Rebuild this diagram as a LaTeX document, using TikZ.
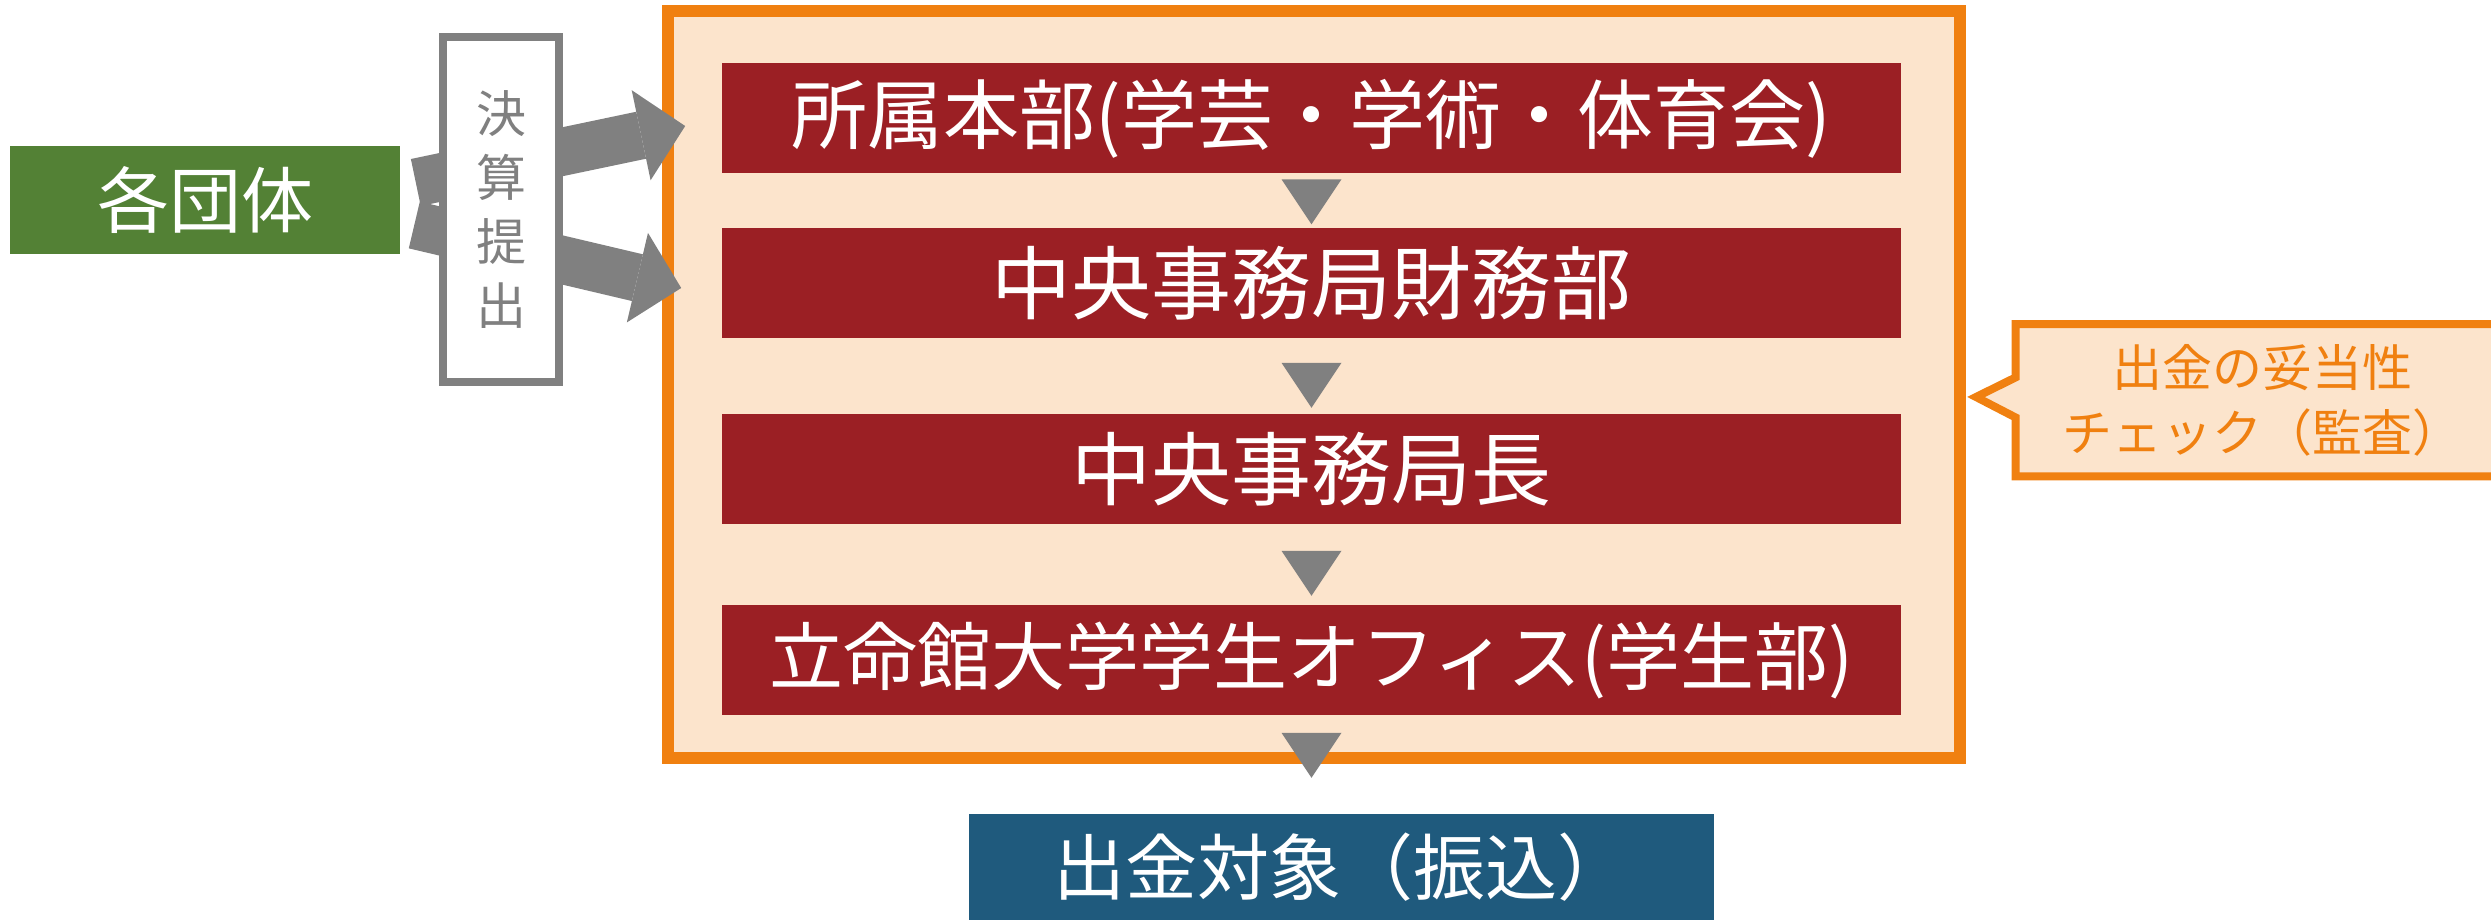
\documentclass[tikz,border=0pt]{standalone}
\usepackage{fontspec}
\newfontfamily\jpfont{Noto Sans CJK JP}
\usetikzlibrary{arrows.meta, calc, shapes.callouts}
\definecolor{groupgreen}{HTML}{538135}
\definecolor{deptred}{HTML}{9B1F24}
\definecolor{payblue}{HTML}{1F5A7D}
\definecolor{auditorange}{HTML}{F08010}
\definecolor{auditfill}{HTML}{FCE4CC}
\definecolor{flowgray}{HTML}{808080}
\tikzset{
  deptbox/.style = {fill=deptred, text=white, inner sep=0, minimum width=294.75pt, minimum height=27.5pt},
  auditframe/.style = {draw=auditorange, line width=3pt, fill=auditfill, inner sep=0},
  groupbox/.style = {fill=groupgreen, text=white, inner sep=0, minimum width=97.5pt, minimum height=27pt,
    font=\jpfont\fontsize{18pt}{22pt}\selectfont},
  paybox/.style = {fill=payblue, text=white, inner sep=0, minimum width=186.25pt, minimum height=26.5pt,
    font=\jpfont\fontsize{18pt}{22pt}\selectfont},
  submitbox/.style = {draw=flowgray, line width=2pt, fill=white, text=flowgray, inner sep=0, align=center,
    minimum width=29pt, minimum height=86.25pt, font=\jpfont\fontsize{12.5pt}{16pt}\selectfont},
  auditnote/.style = {rectangle callout, draw=auditorange, line width=2pt, fill=auditfill, text=auditorange,
    inner sep=0, align=center, minimum width=123.6pt, minimum height=38.1pt, callout pointer width=10pt,
    font=\jpfont\fontsize{12.5pt}{16.25pt}\selectfont},
  bigarrow/.style = {draw=flowgray, line width=12pt,
    -{Triangle[width=23pt, length=11.25pt, line width=0pt]}},
  downtri/.style = {fill=flowgray},
}

\begin{document}
\begin{tikzpicture}[x=0.25pt, y=-0.25pt]
  \useasboundingbox (0,0) rectangle (2491,920);
  % checking chain inside the orange frame
  \node (frame) [auditframe, minimum width=323pt, minimum height=186.75pt] at (1314,384.5) {};
  \node (r1) [deptbox, font=\jpfont\fontsize{19pt}{23pt}\selectfont] at (1311.5,118.5) {所属本部(学芸・学術・体育会)};
  \node (r2) [deptbox, font=\jpfont\fontsize{20pt}{24pt}\selectfont] at (1311.5,283) {中央事務局財務部};
  \node (r3) [deptbox, font=\jpfont\fontsize{20pt}{24pt}\selectfont] at (1311.5,469) {中央事務局長};
  \node (r4) [deptbox, font=\jpfont\fontsize{18.5pt}{22pt}\selectfont] at (1311.5,660) {立命館大学学生オフィス(学生部)};
  \node (pay) [paybox] at (1341.5,867) {出金対象（振込）};

  % submission from the groups
  \node (grp) [groupbox] at (205,200) {各団体};
  \draw [bigarrow] ($(grp.east)+(15,-17.5)$) -- ($(r1.west)+(-36,7.5)$);
  \draw [bigarrow] ($(grp.east)+(13.5,25)$) -- ($(r2.west)+(-40,5)$);
  \node (kessan) [submitbox] at (501,209.5) {決\\算\\提\\出};

  \foreach \a/\d in {r1/5, r2/24, r3/26, r4/17}{
    \fill [downtri] ($(\a.south)+(-30,\d)$) -- ++(60,0) -- ++(-30,45) -- cycle;
  }

  \node (audit) [auditnote, callout absolute pointer={(1976,397)}] at (2262.75,400.25)
    {出金の妥当性\\チェック（監査）};
\end{tikzpicture}
\end{document}
